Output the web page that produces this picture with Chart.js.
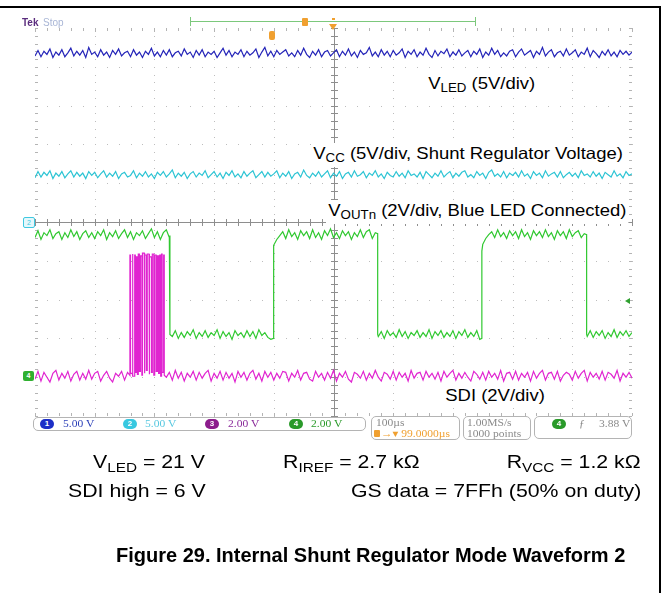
<!DOCTYPE html>
<html><head><meta charset="utf-8">
<script src="https://cdn.jsdelivr.net/npm/chart.js@4.4.1/dist/chart.umd.min.js"></script>
<style>
html,body{margin:0;padding:0;background:#fff;}
#wrap{position:relative;width:665px;height:593px;overflow:hidden;background:#fff;}
#c{position:absolute;left:0;top:0;}
.t{position:absolute;white-space:nowrap;font-family:"Liberation Sans",Arial,sans-serif;color:#000;transform-origin:0 0;}
.lbl{background:#fff;font-size:16.5px;line-height:20px;transform:scaleX(1.12);padding:0 2px 2px 2px;}
.body{font-size:19px;line-height:19px;transform:scaleX(1.12);}
.r{transform-origin:100% 0;}
.cap{font-size:20px;line-height:20px;font-weight:bold;}
.sb{font-size:0.72em;position:relative;top:0.28em;}
.box{position:absolute;border:1px solid #b4b4b4;border-radius:5px;box-sizing:border-box;background:#fff;}
.ro{position:absolute;white-space:nowrap;font-family:"Liberation Serif","DejaVu Serif",serif;font-size:10.5px;line-height:11px;transform:scaleX(1.1);transform-origin:0 0;}
.chip{position:absolute;width:14px;height:10px;border-radius:5px;color:#fff;font:bold 8px "Liberation Sans",sans-serif;text-align:center;line-height:10px;}
.dec{position:absolute;}
</style>
</head><body>
<div id="wrap">
<canvas id="c" width="665" height="593"></canvas>

<!-- page frame -->
<div class="dec" style="left:0;top:6px;width:661px;height:2px;background:#000"></div>
<div class="dec" style="left:659px;top:6px;width:2px;height:587px;background:#000"></div>

<!-- scope header -->
<div class="t" style="left:22px;top:17px;font-size:10px;line-height:11px;font-weight:bold;color:#5b2d7e">Tek</div>
<div class="t" style="left:43px;top:17px;font-size:10px;line-height:11px;color:#a9b6d6">Stop</div>
<div class="dec" style="left:190px;top:21px;width:285px;height:1px;background:#7cc87c"></div>
<div class="dec" style="left:190px;top:17px;width:1px;height:9px;background:#7cc87c"></div>
<div class="dec" style="left:475px;top:17px;width:1px;height:9px;background:#7cc87c"></div>
<div class="dec" style="left:302px;top:18px;width:6px;height:8px;background:#f0a030;border-radius:1px"></div>
<div class="dec" style="left:269px;top:31px;width:6px;height:9px;background:#f0a030;border-radius:2px"></div>
<div class="dec" style="left:332px;top:18px;width:3px;height:2px;background:#f0a030"></div>
<div class="dec" style="left:329px;top:24px;width:0;height:0;border-left:4px solid transparent;border-right:4px solid transparent;border-top:6px solid #f0a030"></div>

<!-- channel markers -->
<div class="dec" style="left:23px;top:217px;width:10px;height:9px;border:1px solid #40c8e0;background:#e4f8fc;border-radius:2px;color:#40c8e0;font:7px 'Liberation Sans';line-height:9px;text-align:center">2</div>
<div class="dec" style="left:23px;top:371px;width:11px;height:10px;background:#30b030;border-radius:2px;color:#fff;font:bold 7px 'Liberation Sans';line-height:10px;text-align:center">4</div>
<div class="dec" style="left:625px;top:298px;width:0;height:0;border-top:3px solid transparent;border-bottom:3px solid transparent;border-right:5px solid #30a030"></div>

<!-- trace labels -->
<div class="t lbl" style="left:426px;top:73px">V<span class="sb">LED</span> (5V/div)</div>
<div class="t lbl" style="left:311px;top:143px">V<span class="sb">CC</span> (5V/div, Shunt Regulator Voltage)</div>
<div class="t lbl" style="left:326px;top:200px">V<span class="sb">OUTn</span> (2V/div, Blue LED Connected)</div>
<div class="t lbl" style="left:443px;top:385px">SDI (2V/div)</div>

<!-- readouts -->
<div class="box" style="left:33px;top:417px;width:333px;height:14px"></div>
<div class="chip" style="left:40px;top:419px;background:#1d2fc7">1</div>
<div class="ro" style="left:63px;top:418px;color:#2b3fb8">5.00 V</div>
<div class="chip" style="left:123px;top:419px;background:#38c8e0">2</div>
<div class="ro" style="left:145px;top:418px;color:#58c8e0">5.00 V</div>
<div class="chip" style="left:205px;top:419px;background:#8c1c8c">3</div>
<div class="ro" style="left:228px;top:418px;color:#8a2a9a">2.00 V</div>
<div class="chip" style="left:289px;top:419px;background:#2a9a2a">4</div>
<div class="ro" style="left:311px;top:418px;color:#2a9a2a">2.00 V</div>

<div class="box" style="left:371px;top:416px;width:89px;height:24px"></div>
<div class="ro" style="left:376px;top:417px;color:#8a8a8a">100µs</div>
<div class="dec" style="left:374px;top:430px;width:6px;height:7px;background:#f0a030;border-radius:1px"></div>
<div class="ro" style="left:381px;top:428px;color:#f0a030">→▾ 99.0000µs</div>

<div class="box" style="left:463px;top:416px;width:68px;height:24px"></div>
<div class="ro" style="left:467px;top:417px;color:#8a8a8a">1.00MS/s</div>
<div class="ro" style="left:467px;top:428px;color:#8a8a8a">1000 points</div>

<div class="box" style="left:534px;top:416px;width:98px;height:23px"></div>
<div class="chip" style="left:552px;top:419px;background:#2a9a2a">4</div>
<div class="ro" style="left:579px;top:418px;color:#8a8a8a">ƒ</div>
<div class="ro" style="left:599px;top:418px;color:#8a8a8a">3.88 V</div>

<!-- figure text -->
<div class="t body" style="left:93px;top:452px">V<span class="sb">LED</span> = 21 V</div>
<div class="t body" style="left:283px;top:452px">R<span class="sb">IREF</span> = 2.7 kΩ</div>
<div class="t body r" style="right:24px;top:452px">R<span class="sb">VCC</span> = 1.2 kΩ</div>
<div class="t body" style="left:68px;top:481px">SDI high = 6 V</div>
<div class="t body r" style="right:24px;top:481px">GS data = 7FFh (50% on duty)</div>
<div class="t cap" style="left:116px;top:545px">Figure 29. Internal Shunt Regulator Mode Waveform 2</div>
</div>

<script>
// ---- acquisition: samples every 5 µs, 0..1000 µs (10 div x 100 µs) ----
const sampleStepUs = 5;

// CH1 V_LED (volts)
const vledVolts = [
21.4,22.1,21.3,22.0,21.6,22.3,21.2,21.9,21.5,22.2,21.3,21.8,22.4,21.4,22.0,21.5,22.1,21.2,22.5,21.6,
21.9,21.3,22.2,21.5,21.9,21.2,22.1,21.6,22.3,21.4,21.8,22.0,21.3,22.2,21.5,21.9,21.2,22.0,21.6,22.4,
21.4,21.9,21.3,22.1,21.5,22.2,21.3,21.8,22.0,21.4,22.3,21.6,21.9,21.2,22.1,21.5,22.2,21.3,21.9,21.6,
22.0,21.2,21.8,22.4,21.5,22.1,21.3,21.9,21.6,22.2,21.3,22.0,21.5,21.8,22.3,21.2,21.9,22.5,21.4,22.0,
21.3,22.1,21.6,21.9,22.2,21.4,21.8,21.3,22.1,21.5,22.4,21.6,21.2,22.0,21.5,22.2,21.3,21.9,22.1,21.4,
21.8,22.2,21.3,22.0,21.5,22.3,21.4,21.9,21.2,22.1,21.6,21.8,22.5,21.4,21.9,21.3,22.2,21.5,22.0,21.3,
22.1,21.5,21.8,22.3,21.2,22.0,21.6,22.2,21.3,21.9,21.5,22.4,21.6,21.2,22.1,21.4,22.0,21.7,22.3,21.3,
21.9,21.5,22.2,21.4,21.8,22.1,21.3,22.0,21.6,22.3,21.2,21.9,21.5,22.4,21.6,22.1,21.3,21.8,21.4,22.0,
22.2,21.3,21.9,22.3,21.5,21.8,22.1,21.2,22.0,21.6,22.5,21.4,21.9,22.2,21.3,21.8,22.0,21.4,22.3,21.5,
21.8,22.2,21.3,21.9,21.6,22.4,21.3,22.1,21.7,21.2,22.0,21.5,22.2,21.4,21.9,21.3,22.1,21.6,22.0,21.5,
21.9];

// CH2 V_CC (volts)
const vccVolts = [
5.7,6.5,5.8,6.4,6.0,6.6,5.6,6.3,5.9,6.5,5.7,6.2,6.6,5.8,6.4,5.9,6.3,5.6,6.5,6.0,
6.4,5.7,6.2,6.6,5.8,6.3,5.9,6.5,5.6,6.2,6.4,5.8,6.0,6.6,5.7,6.3,5.9,6.5,5.8,6.2,
5.6,6.4,6.0,6.5,5.8,6.2,6.7,5.7,6.3,5.9,6.4,5.6,6.2,6.5,5.8,6.3,6.0,6.6,5.7,6.1,
6.5,5.8,6.3,5.6,6.4,6.0,6.6,5.8,6.2,5.7,6.5,5.9,6.3,6.6,5.7,6.1,6.5,5.8,6.4,5.9,
6.2,6.6,5.7,6.3,5.9,6.5,5.6,6.2,6.4,5.8,6.7,6.0,5.7,6.3,5.9,6.5,5.8,6.2,6.6,5.7,
6.3,5.9,6.5,5.6,6.2,6.4,5.8,6.6,5.9,6.1,6.5,5.7,6.3,6.0,6.6,5.8,6.2,5.6,6.4,6.0,
5.8,6.5,5.9,6.3,5.7,6.6,6.0,6.2,5.8,6.4,5.6,6.5,6.1,5.7,6.3,5.9,6.6,5.8,6.2,6.5,
5.7,6.3,5.9,6.4,6.6,5.8,6.1,5.7,6.5,6.0,6.3,5.6,6.4,6.7,5.9,6.2,5.8,6.5,5.7,6.3,
6.0,6.4,5.8,6.6,5.9,6.2,5.6,6.5,6.0,6.3,5.7,6.6,5.9,6.2,6.4,5.8,6.5,5.7,6.1,6.4,
5.9,6.3,5.7,6.6,6.0,6.2,5.8,6.5,5.9,6.3,5.6,6.4,6.1,5.8,6.6,5.9,6.2,5.7,6.5,6.0,
6.2];

// CH4 V_OUTn (volts)
const voutVolts = [
7.2,7.55,7.1,7.45,7.3,7.6,7.15,7.4,7.5,7.1,
7.45,7.2,7.6,7.25,7.5,7.1,7.4,7.55,7.2,7.45,
7.15,7.5,7.3,7.6,7.1,7.45,7.25,7.55,7.15,7.4,
7.6,7.2,7.5,7.1,7.45,7.3,7.55,7.15,7.4,7.65,
7.2,7.5,7.1,7.45,7.6,7.2,
2.1,2.4,2.0,2.3,
2.05,2.35,2.15,2.45,2.0,2.3,2.1,2.4,2.05,2.3,
2.15,2.45,2.0,2.35,2.1,2.3,1.95,2.4,2.15,2.3,
2.05,2.4,2.1,2.35,2.0,2.45,2.15,2.3,2.05,1.95,
6.8,7.1,7.3,7.5,7.15,7.6,7.25,7.45,7.1,7.55,
7.3,7.5,7.15,7.6,7.2,7.45,7.1,7.55,7.3,7.65,
7.2,7.45,7.15,7.55,7.3,7.5,7.1,7.45,7.25,7.6,
7.2,7.5,7.6,7.15,7.45,
2.1,2.35,2.0,2.4,2.15,
2.3,2.05,2.45,2.1,2.35,2.0,2.3,2.15,2.4,2.05,
2.3,2.1,2.45,2.0,2.35,2.15,2.4,2.05,2.3,2.1,
2.4,2.0,2.35,2.15,2.45,2.05,2.3,2.1,2.4,1.95,
6.85,7.15,7.35,7.5,7.2,7.6,7.25,7.45,7.15,7.55,
7.3,7.5,7.15,7.6,7.25,7.45,7.1,7.55,7.3,7.5,
7.2,7.6,7.25,7.45,7.1,7.55,7.3,7.5,7.15,7.6,
7.25,7.45,7.55,7.2,7.4,
2.1,2.4,2.05,2.35,2.15,
2.4,2.0,2.3,2.1,2.45,2.05,2.35,2.15,2.4,2.1,
2.3];
// V_OUTn switching edges (µs) and levels either side (V)
const voutEdgeUs   = [226, 399.5, 574, 748.5, 924];
const voutEdgeFrom = [7.3, 2.0, 7.4, 2.0, 7.35];
const voutEdgeTo   = [2.2, 6.5, 2.2, 6.5, 2.2];

// CH3 SDI (volts), baseline samples
const sdiVolts = [
-0.1,0.3,-0.2,0.25,0.0,-0.25,0.2,0.35,-0.15,0.2,
-0.05,0.3,-0.2,0.15,0.3,-0.15,0.2,-0.1,0.35,-0.1,
0.2,0.3,-0.2,0.1,0.3,-0.05,-0.25,0.2,0.05,0.3,
-0.15,0.25,-0.05,0.35,-0.2,0.2,0.0,0.3,-0.15,0.25,
-0.05,0.2,-0.25,0.3,0.0,0.25,-0.15,0.35,-0.05,0.25,
-0.2,0.2,0.0,0.3,-0.15,0.25,-0.05,0.2,0.35,-0.2,
0.2,-0.05,0.3,-0.15,0.25,-0.05,0.2,-0.25,0.3,0.0,
0.25,-0.15,0.2,0.35,-0.1,0.2,-0.2,0.3,0.0,0.25,
-0.15,0.2,-0.05,0.3,0.25,-0.2,0.2,0.0,0.35,-0.15,
0.2,0.25,-0.1,-0.2,0.3,0.0,0.2,-0.15,0.25,-0.05,
0.35,-0.2,0.2,0.0,0.3,-0.1,-0.25,0.25,0.15,-0.05,
0.3,-0.15,0.2,-0.05,0.35,0.0,-0.2,0.25,0.15,-0.1,
0.3,-0.15,0.25,0.0,0.2,-0.2,0.35,-0.05,0.2,0.25,
-0.15,0.3,0.0,0.2,-0.1,0.25,-0.2,0.3,0.0,0.2,
0.35,-0.15,0.2,-0.05,0.25,0.0,-0.2,0.3,0.15,-0.1,
0.25,-0.15,0.3,0.0,0.2,-0.1,0.35,-0.2,0.2,0.25,
-0.1,0.3,-0.15,0.2,0.0,0.25,-0.2,0.3,-0.05,0.2,
0.35,-0.15,0.2,0.25,-0.1,0.3,-0.2,0.1,0.25,0.15,
-0.15,0.3,-0.05,0.2,0.35,-0.2,0.25,0.0,0.2,-0.1,
0.3,-0.15,0.25,0.15,-0.05,0.35,-0.2,0.2,0.0,0.25,
-0.05];
// SDI data burst (µs / V)
const sdiBurstWindowUs = [157, 218];
const sdiPulseRiseUs = [159,163,167,170,173,176.5,180,184,188,192,196.5,200.5,205,209,212,215.5];
const sdiPulseFallUs = [160,164,168,171.5,175,179,183,186.5,191,195,199,203,207,210.5,213,216.5];
const sdiPulseHighV  = [6.3,6.35,6.3,6.2,6.35,6.25,6.4,6.3,6.35,6.2,6.35,6.3,6.25,6.3,6.35,6.3];
const sdiPulseLowV   = [0.1,0.2,0.05,0.25,0.15,0.3,0.1,0.2,0.35,0.15,0.25,0.1,0.3,0.2,0.05,0.25,0.1];

// ---- display settings (V/div and ground position in divisions) ----
const chDisplay = {
  ch1:{vdiv:5, pos:0,  color:'#2424b8'},
  ch2:{vdiv:5, pos:0,  color:'#2cc4d4'},
  ch3:{vdiv:2, pos:-4, color:'#e024d0'},
  ch4:{vdiv:2, pos:-4, color:'#30c830'}
};

function toDiv(v, ch){ return ch.pos + v / ch.vdiv; }
function uniformPts(vals, ch, skip){
  const out = [];
  vals.forEach((v,i)=>{
    const t = i*sampleStepUs;
    if (skip && t > skip[0] && t < skip[1]) return;
    out.push({x:t, y:toDiv(v,ch), o:0});
  });
  return out;
}
function sortPts(p){ return p.map((q,k)=>({...q,k})).sort((a,b)=>(a.x-b.x)||(a.o-b.o)||(a.k-b.k)).map(q=>({x:q.x,y:q.y})); }

const ch1Pts = uniformPts(vledVolts, chDisplay.ch1).map(p=>({x:p.x,y:p.y}));
const ch2Pts = uniformPts(vccVolts, chDisplay.ch2).map(p=>({x:p.x,y:p.y}));

let g = uniformPts(voutVolts, chDisplay.ch4);
voutEdgeUs.forEach((t,i)=>{
  g.push({x:t, y:toDiv(voutEdgeFrom[i],chDisplay.ch4), o:-2});
  g.push({x:t, y:toDiv(voutEdgeTo[i],chDisplay.ch4), o:-1});
});
const ch4Pts = sortPts(g);

let m = uniformPts(sdiVolts, chDisplay.ch3, sdiBurstWindowUs);
sdiPulseRiseUs.forEach((r,i)=>{
  const f = sdiPulseFallUs[i];
  m.push({x:r, y:toDiv(sdiPulseLowV[i],chDisplay.ch3), o:-4});
  m.push({x:r, y:toDiv(sdiPulseHighV[i],chDisplay.ch3), o:-3});
  m.push({x:f, y:toDiv(sdiPulseHighV[i],chDisplay.ch3), o:-2});
  m.push({x:f, y:toDiv(sdiPulseLowV[i+1],chDisplay.ch3), o:-1});
});
const ch3Pts = sortPts(m);

// ---- graticule (10 x 10 div) ----
const graticule = {
  id:'graticule',
  beforeDatasetsDraw(chart){
    const {ctx, scales:{x,y}} = chart;
    ctx.save();
    const X = v=>Math.round(x.getPixelForValue(v));
    const Y = v=>Math.round(y.getPixelForValue(v));
    ctx.fillStyle = '#bdbdbd';
    for (let i=1;i<10;i++){ if(i===5) continue; const px=X(i*100); for(let j=0;j<=50;j++) ctx.fillRect(px,Y(-5+j*0.2),1,1); }
    for (let j=1;j<10;j++){ if(j===5) continue; const py=Y(-5+j); for(let i=0;i<=50;i++) ctx.fillRect(X(i*20),py,1,1); }
    ctx.fillStyle = '#b4b4b4';
    const L=X(0), R=X(1000), T=Y(5), B=Y(-5);
    for (let i=0;i<=50;i++){ const px=X(i*20); ctx.fillRect(px,T,1,i%5===0?4:3); ctx.fillRect(px,B-3,1,3); }
    for (let j=0;j<=50;j++){ const py=Y(-5+j*0.2); ctx.fillRect(L,py,3,1); ctx.fillRect(R-3,py,3,1); }
    ctx.fillStyle = '#8e8e8e';
    const cx=X(500), cy=Y(0);
    ctx.fillRect(cx,T,1,B-T); ctx.fillRect(L,cy,R-L,1);
    for (let j=0;j<=50;j++){ ctx.fillRect(cx-3,Y(-5+j*0.2),7,1); }
    for (let i=0;i<=50;i++){ ctx.fillRect(X(i*20),cy-3,1,7); }
    ctx.restore();
  }
};

const mk = (pts,color)=>({data:pts, showLine:true, borderColor:color, backgroundColor:color, borderWidth:1.2, pointRadius:0, tension:0, fill:false});

new Chart(document.getElementById('c'), {
  type:'scatter',
  data:{datasets:[
    mk(ch1Pts, chDisplay.ch1.color),
    mk(ch2Pts, chDisplay.ch2.color),
    mk(ch4Pts, chDisplay.ch4.color),
    mk(ch3Pts, chDisplay.ch3.color)
  ]},
  options:{
    responsive:false, animation:false, devicePixelRatio:1,
    layout:{padding:{left:35, right:33, top:28, bottom:177}},
    plugins:{legend:{display:false}, tooltip:{enabled:false}},
    scales:{
      x:{type:'linear', min:0, max:1000, display:false},
      y:{type:'linear', min:-5, max:5, display:false}
    }
  },
  plugins:[graticule]
});
</script>
</body></html>
